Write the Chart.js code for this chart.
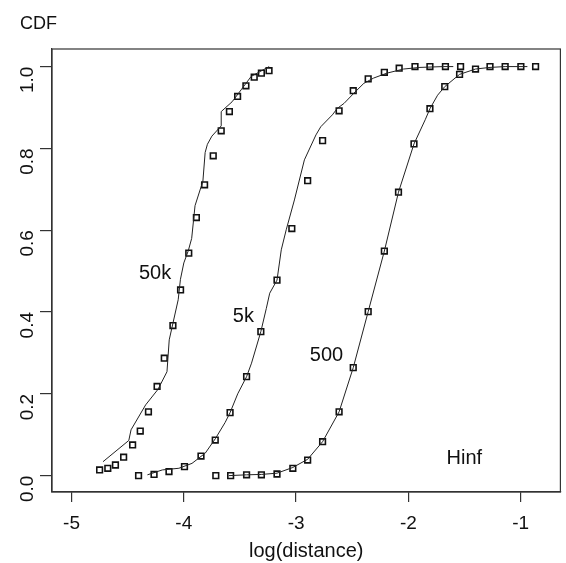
<!DOCTYPE html>
<html>
<head>
<meta charset="utf-8">
<script src="https://cdn.jsdelivr.net/npm/chart.js@4.4.1/dist/chart.umd.min.js"></script>
<style>
  html, body { margin: 0; padding: 0; background: #fff; overflow: hidden; }
  #wrap { width: 566px; height: 563px; position: relative; }
  canvas { display: block; }
</style>
</head>
<body>
<div id="wrap"><canvas id="cdf"></canvas></div>
<script>
/* CDF of log(distance) — empirical points (open squares) + fitted curves */

// axis ticks
const xTicks = [-5, -4, -3, -2, -1];
const yTicks = [0, 0.2, 0.4, 0.6, 0.8, 1.0];

// 50k: points and fitted curve
const p50kX = [-4.75, -4.677, -4.609, -4.536, -4.456, -4.388, -4.315, -4.238, -4.174, -4.097, -4.029, -3.956, -3.888, -3.815, -3.738, -3.667, -3.594, -3.521, -3.447, -3.373, -3.309, -3.241];
const p50kY = [0.014, 0.018, 0.026, 0.045, 0.075, 0.109, 0.156, 0.218, 0.287, 0.367, 0.454, 0.544, 0.631, 0.711, 0.782, 0.843, 0.890, 0.927, 0.953, 0.974, 0.984, 0.990];
const l50kX = [-4.72, -4.49, -4.47, -4.34, -4.23, -4.15, -4.13, -4.05, -4.03, -4.0, -3.96, -3.93, -3.90, -3.83, -3.81, -3.79, -3.75, -3.667, -3.667, -3.57, -3.49, -3.40, -3.24];
const l50kY = [0.034, 0.086, 0.112, 0.173, 0.211, 0.254, 0.332, 0.43, 0.48, 0.52, 0.55, 0.58, 0.66, 0.72, 0.79, 0.81, 0.83, 0.855, 0.89, 0.914, 0.943, 0.976, 1.0];

// 5k
const p5kX = [-4.403, -4.265, -4.132, -3.994, -3.847, -3.72, -3.588, -3.441, -3.314, -3.17, -3.038, -2.897, -2.764, -2.617, -2.491, -2.358, -2.214, -2.082, -1.941, -1.808, -1.67, -1.535];
const p5kY = [0.0, 0.003, 0.010, 0.022, 0.048, 0.087, 0.154, 0.242, 0.352, 0.478, 0.604, 0.721, 0.819, 0.892, 0.941, 0.970, 0.986, 0.996, 1.0, 1.0, 1.0, 1.0];
const l5kX = [-4.324, -4.191, -4.044, -3.927, -3.809, -3.72, -3.632, -3.588, -3.52, -3.441, -3.397, -3.314, -3.265, -3.235, -3.17, -3.132, -3.088, -3.015, -2.926, -2.823, -2.78, -2.677, -2.632, -2.573, -2.485, -2.397, -2.309, -2.191, -2.043, -1.897, -1.69, -1.6];
const l5kY = [0.002, 0.014, 0.018, 0.03, 0.055, 0.09, 0.13, 0.154, 0.2, 0.242, 0.275, 0.352, 0.409, 0.446, 0.478, 0.552, 0.601, 0.674, 0.772, 0.833, 0.853, 0.882, 0.898, 0.91, 0.935, 0.959, 0.972, 0.984, 0.994, 0.998, 1.0, 1.0];

// 500
const p500X = [-3.715, -3.583, -3.441, -3.309, -3.17, -3.029, -2.897, -2.764, -2.617, -2.491, -2.358, -2.214, -2.088, -1.95, -1.808, -1.676, -1.544, -1.402, -1.273, -1.138, -0.998, -0.867];
const p500Y = [0.0, 0.0, 0.002, 0.002, 0.004, 0.018, 0.038, 0.083, 0.156, 0.264, 0.401, 0.549, 0.693, 0.811, 0.897, 0.951, 0.981, 0.994, 1.0, 1.0, 1.0, 1.0];
const l500X = [-3.6, -3.441, -3.309, -3.17, -3.029, -2.897, -2.764, -2.617, -2.491, -2.358, -2.214, -2.088, -1.95, -1.85, -1.808, -1.74, -1.676, -1.544, -1.402, -1.273, -1.138, -0.94];
const l500Y = [0.0, 0.002, 0.003, 0.006, 0.02, 0.04, 0.083, 0.156, 0.264, 0.401, 0.549, 0.693, 0.811, 0.87, 0.897, 0.93, 0.951, 0.981, 0.994, 0.998, 1.0, 1.0];

// in-plot curve labels (data coords)
const labelText = ['50k', '5k', '500', 'Hinf'];
const labelX = [-4.256, -3.47, -2.729, -1.502];
const labelY = [0.493, 0.39, 0.293, 0.041];

const INK = '#111', LINE = '#222', FONT = '"Liberation Sans", Arial, sans-serif';

const pts = (xs, ys) => xs.map((x, i) => ({ x, y: ys[i] }));
const curve = (xs, ys) => ({ data: pts(xs, ys), showLine: true, borderColor: LINE, borderWidth: 1, pointRadius: 0, tension: 0 });
const marks = (xs, ys) => ({ data: pts(xs, ys), showLine: false, pointStyle: 'rect', pointRadius: 4,
  borderColor: INK, backgroundColor: '#fff', pointBorderWidth: 1.6 });

// full box around plot, curve labels, and the "CDF" heading
const decor = {
  id: 'decor',
  afterDraw(c) {
    const { ctx, chartArea: a, scales: { x, y } } = c;
    ctx.save();
    ctx.strokeStyle = '#333'; ctx.lineWidth = 1.2;
    ctx.strokeRect(a.left, a.top, a.right - a.left, a.bottom - a.top);
    ctx.fillStyle = INK; ctx.font = '20px ' + FONT;
    ctx.textAlign = 'center'; ctx.textBaseline = 'middle';
    labelText.forEach((t, i) => ctx.fillText(t, x.getPixelForValue(labelX[i]), y.getPixelForValue(labelY[i])));
    ctx.font = '18px ' + FONT;
    ctx.textAlign = 'left'; ctx.textBaseline = 'alphabetic';
    ctx.fillText('CDF', 20, 29);
    ctx.restore();
  }
};

new Chart(document.getElementById('cdf'), {
  type: 'scatter',
  data: { datasets: [
    curve(l50kX, l50kY), curve(l5kX, l5kY), curve(l500X, l500Y),
    marks(p50kX, p50kY), marks(p5kX, p5kY), marks(p500X, p500Y)
  ]},
  options: {
    responsive: true, maintainAspectRatio: false, animation: false,
    layout: { padding: { top: 49, right: 1, left: 0, bottom: 0 } },
    plugins: { legend: { display: false }, tooltip: { enabled: false } },
    scales: {
      x: {
        type: 'linear', min: -5.174, max: -0.646,
        afterBuildTicks: s => { s.ticks = xTicks.map(v => ({ value: v })); },
        afterFit: s => { s.height = 71; },
        border: { display: true, color: '#333', width: 1.2 },
        grid: { display: true, drawOnChartArea: false, drawTicks: true, tickLength: 10, color: '#333', lineWidth: 1.2 },
        ticks: { color: INK, padding: 10, font: { family: FONT, size: 19 }, maxRotation: 0, callback: v => String(v) },
        title: { display: true, text: 'log(distance)', color: INK, font: { family: FONT, size: 20 }, padding: { top: 0, bottom: 0 } }
      },
      y: {
        type: 'linear', min: -0.04, max: 1.043,
        afterBuildTicks: s => { s.ticks = yTicks.map(v => ({ value: v })); },
        afterFit: s => { s.width = 52; },
        border: { display: true, color: '#333', width: 1.2 },
        grid: { display: true, drawOnChartArea: false, drawTicks: true, tickLength: 12, color: '#333', lineWidth: 1.2 },
        ticks: { color: INK, padding: 12, minRotation: 90, maxRotation: 90, font: { family: FONT, size: 19 }, callback: v => v.toFixed(1) }
      }
    }
  },
  plugins: [decor]
});
</script>
</body>
</html>
